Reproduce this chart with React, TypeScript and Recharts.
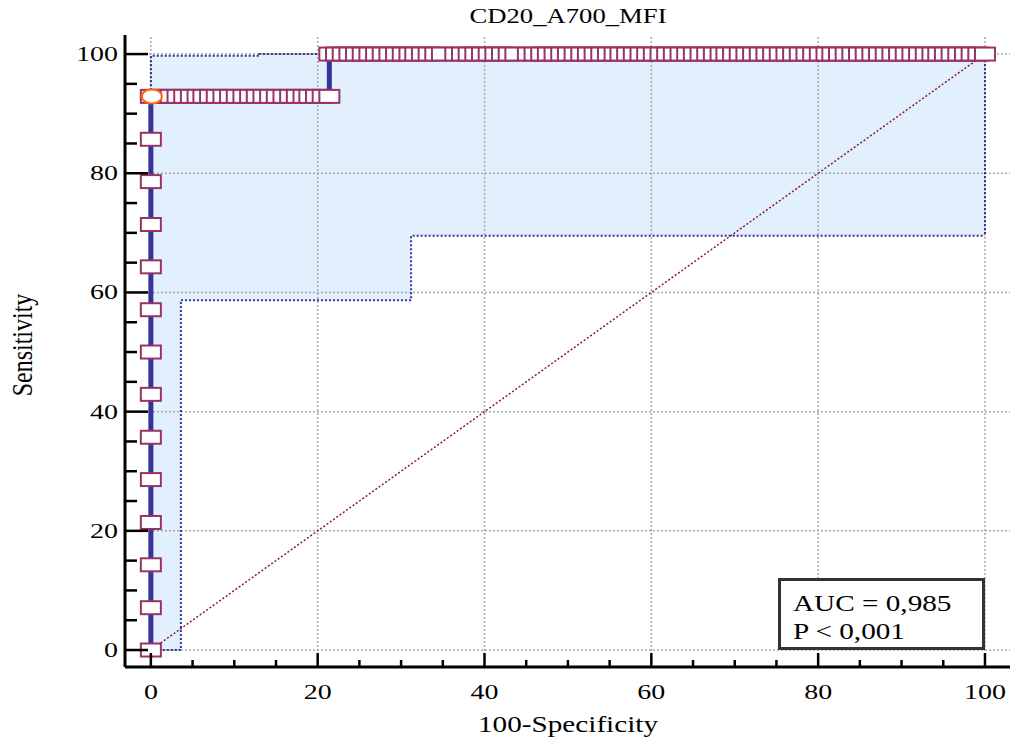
import React from "react"
import { ComposedChart, Line, Area, XAxis, YAxis, ReferenceLine } from "recharts"

// sensitivity at each true positive step (x = 0)
const sensitivitySteps = [0, 7.1, 14.3, 21.4, 28.6, 35.7, 42.9, 50.0, 57.1, 64.3, 71.4, 78.6, 85.7, 92.9]
const criterionSensitivity = 92.9

// 100-specificity values along the row at sensitivity 92.9
const fprRowCriterion = [
  0, 0.8, 1.6, 2.4, 3.2, 4.0, 4.8, 5.6, 6.3, 7.1, 7.9, 8.7, 9.5, 10.3, 11.1, 11.9, 12.7, 13.5,
  14.3, 15.1, 15.9, 16.7, 17.5, 18.3, 19.0, 19.8, 20.6, 21.4,
]

// 100-specificity values along the row at sensitivity 100
const fprRowFull = [
  21.4, 22.2, 23.0, 23.8, 24.6, 25.4, 26.2, 27.0, 27.8, 28.6, 29.4, 30.2, 31.0, 31.7, 32.5, 33.3,
  34.1, 34.9, 36.5, 37.3, 38.1, 38.9, 39.7, 40.5, 41.3, 42.1, 42.9, 43.7, 45.2, 46.0, 46.8, 47.6,
  48.4, 49.2, 50.0, 50.8, 51.6, 52.4, 53.2, 54.0, 54.8, 55.6, 56.3, 57.1, 57.9, 58.7, 59.5, 60.3,
  61.1, 61.9, 62.7, 63.5, 64.3, 65.1, 65.9, 66.7, 67.5, 68.3, 69.0, 69.8, 70.6, 71.4, 72.2, 73.0,
  73.8, 74.6, 75.4, 76.2, 77.0, 77.8, 78.6, 79.4, 80.2, 81.0, 81.7, 82.5, 83.3, 84.1, 84.9, 85.7,
  86.5, 87.3, 88.1, 88.9, 89.7, 90.5, 91.3, 92.1, 92.9, 93.7, 94.4, 95.2, 96.0, 96.8, 97.6, 98.4,
  99.2, 100,
]

// confidence band edges as [x, y]
const upperBand = [[0, 0], [0, 99.7], [13, 99.7], [13, 100], [100, 100], [100, 69.5]]
const lowerBand = [[0, 0], [3.6, 0], [3.6, 58.7], [31.2, 58.7], [31.2, 69.5], [100, 69.5]]
// fill: [x, low, high]
const bandFill = [
  [0, 0, 99.7], [3.6, 0, 99.7], [3.6, 58.7, 99.7], [13, 58.7, 99.7], [13, 58.7, 100],
  [31.2, 58.7, 100], [31.2, 69.5, 100], [100, 69.5, 100],
]
const diagonal = [[0, 0], [100, 100]]

const minorTicks = [0, 5, 10, 15, 20, 25, 30, 35, 40, 45, 50, 55, 60, 65, 70, 75, 80, 85, 90, 95, 100]
const majorTicks = [0, 20, 40, 60, 80, 100]

const rocData = [
  ...sensitivitySteps.map((s) => ({ x: 0, y: s })),
  ...fprRowCriterion.slice(1).map((x) => ({ x, y: criterionSensitivity })),
  ...fprRowFull.map((x) => ({ x, y: 100 })),
]
const toXY = (arr: number[][]) => arr.map(([x, y]) => ({ x, y }))

const FONT = "'Liberation Serif', 'Times New Roman', serif"
const SX = 1.27

const XTick = (props: any) => {
  const { x, y, payload } = props
  const major = payload.value % 20 === 0
  return (
    <g>
      <line x1={x} x2={x} y1={y} y2={y - (major ? 14 : 7)} stroke="#000" strokeWidth={2.5} />
      {major && (
        <text transform={`translate(${x} ${y + 32}) scale(${SX} 1)`} textAnchor="middle" fontSize={22} fontFamily={FONT} fill="#000">
          {payload.value}
        </text>
      )}
    </g>
  )
}

const YTick = (props: any) => {
  const { x, y, payload } = props
  const major = payload.value % 20 === 0
  return (
    <g>
      <line x1={x} x2={x + (major ? 23 : 12)} y1={y} y2={y} stroke="#000" strokeWidth={2.5} />
      {major && (
        <text transform={`translate(${x - 7} ${y + 7}) scale(${SX} 1)`} textAnchor="end" fontSize={22} fontFamily={FONT} fill="#000">
          {payload.value}
        </text>
      )}
    </g>
  )
}

const markerDot = (props: any) => {
  const { cx, cy, index } = props
  return <rect key={`m${index}`} x={cx - 10} y={cy - 6.5} width={20} height={13} fill="#fff" stroke="#993366" strokeWidth={2} />
}

const criterionDot = (props: any) => {
  const { cx, cy, index } = props
  return <ellipse key={`c${index}`} cx={cx + 1} cy={cy} rx={10} ry={7} fill="#fff" stroke="#ff6a10" strokeWidth={2} />
}

export default function App() {
  return (
    <div style={{ position: "absolute", left: 0, top: 0, width: 1013, height: 744, background: "#fff", fontFamily: FONT }}>
      <ComposedChart width={1013} height={744} margin={{ top: 35, right: 3, bottom: 37, left: 65 }}>
        <XAxis
          dataKey="x"
          type="number"
          domain={[-3.1, 103]}
          ticks={minorTicks}
          tick={<XTick />}
          tickLine={false}
          tickSize={0}
          tickMargin={0}
          height={40}
          axisLine={{ stroke: "#000", strokeWidth: 3 }}
          allowDataOverflow
        />
        <YAxis
          type="number"
          domain={[-2.85, 103.2]}
          ticks={minorTicks}
          tick={<YTick />}
          tickLine={false}
          tickSize={0}
          tickMargin={0}
          width={60}
          axisLine={{ stroke: "#000", strokeWidth: 3 }}
          allowDataOverflow
        />
        <Area
          data={bandFill.map(([x, lo, hi]) => ({ x, range: [lo, hi] }))}
          dataKey="range"
          type="linear"
          stroke="none"
          fill="#e2effd"
          fillOpacity={1}
          isAnimationActive={false}
        />
        {majorTicks.map((t) => (
          <ReferenceLine key={`vx${t}`} x={t} stroke="#a8a8a8" strokeWidth={1.5} strokeDasharray="2 2" />
        ))}
        {majorTicks.map((t) => (
          <ReferenceLine key={`hy${t}`} y={t} stroke="#a8a8a8" strokeWidth={1.5} strokeDasharray="2 2" />
        ))}
        <Line data={toXY(diagonal)} dataKey="y" type="linear" stroke="#8b1a3a" strokeWidth={1.5} strokeDasharray="2 2" dot={false} isAnimationActive={false} />
        <Line data={toXY(upperBand)} dataKey="y" type="linear" stroke="#333399" strokeWidth={2} strokeDasharray="2 2" dot={false} isAnimationActive={false} />
        <Line data={toXY(lowerBand)} dataKey="y" type="linear" stroke="#333399" strokeWidth={2} strokeDasharray="2 2" dot={false} isAnimationActive={false} />
        <Line data={rocData} dataKey="y" type="linear" stroke="#333399" strokeWidth={5} dot={markerDot} isAnimationActive={false} />
        <Line data={[{ x: 0, y: criterionSensitivity }]} dataKey="y" type="linear" stroke="none" dot={criterionDot} isAnimationActive={false} />
      </ComposedChart>

      <div style={{ position: "absolute", left: 418, top: 4, width: 300, textAlign: "center", fontSize: 21, lineHeight: "24px", transform: `scaleX(${SX})`, color: "#000" }}>
        CD20_A700_MFI
      </div>
      <div style={{ position: "absolute", left: 418, top: 712, width: 300, textAlign: "center", fontSize: 23, lineHeight: "26px", transform: `scaleX(${SX})`, color: "#000" }}>
        100-Specificity
      </div>
      <div style={{ position: "absolute", left: 22 - 100, top: 345 - 14, width: 200, textAlign: "center", fontSize: 24, lineHeight: "28px", transform: `rotate(-90deg) scaleY(${SX})`, color: "#000" }}>
        Sensitivity
      </div>
      <div style={{ position: "absolute", left: 778, top: 578, width: 207, height: 72, boxSizing: "border-box", border: "3px solid #333", background: "#fff" }}>
        <div style={{ position: "absolute", left: 12, top: 10, fontSize: 23, lineHeight: "26px", transform: `scaleX(${SX})`, transformOrigin: "left center", whiteSpace: "nowrap", color: "#000" }}>
          AUC = 0,985
        </div>
        <div style={{ position: "absolute", left: 12, top: 38, fontSize: 23, lineHeight: "26px", transform: `scaleX(${SX})`, transformOrigin: "left center", whiteSpace: "nowrap", color: "#000" }}>
          P &lt; 0,001
        </div>
      </div>
    </div>
  )
}
